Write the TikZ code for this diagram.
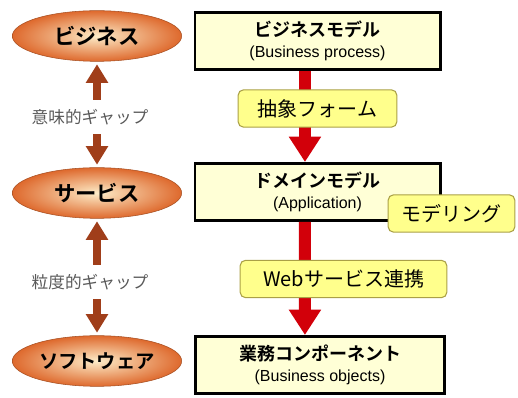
\documentclass[tikz,border=0pt]{standalone}
\usepackage{fontspec}
\setmainfont{Liberation Sans}
\newfontfamily\jp{Noto Sans CJK JP}
\newfontfamily\jpb{Noto Sans CJK JP Bold}
\usepackage{tikz}
\usetikzlibrary{arrows.meta}
\usetikzlibrary{shapes.geometric}
\usetikzlibrary{positioning}
\definecolor{cream}{RGB}{255, 255, 214}
\definecolor{lemon}{RGB}{255, 255, 140}
\definecolor{olive}{RGB}{170, 160, 70}
\definecolor{rust}{RGB}{160, 62, 26}
\definecolor{flamered}{RGB}{210, 0, 10}
\definecolor{peach}{RGB}{253, 236, 200}
\definecolor{burnt}{RGB}{222, 105, 45}

\tikzset{
  layer/.style={ellipse, draw=burnt!75!black, thin, inner color=peach, outer color=burnt,
    inner sep=0pt, minimum width=127pt, minimum height=38pt, font=\jpb\fontsize{16}{16}\selectfont},
  modelbox/.style={rectangle, draw=black, line width=2pt, fill=cream, align=center,
    minimum width=184pt, minimum height=43pt, inner sep=2pt, font=\fontsize{12}{16}\selectfont},
  steplabel/.style={rectangle, rounded corners=4pt, draw=olive, thick, fill=lemon,
    minimum height=28pt, font=\jp\fontsize{15}{15}\selectfont},
  gaplabel/.style={font=\jp\fontsize{12.5}{12.5}\selectfont, text=black!65, inner sep=0pt},
  gaparrow/.style={rust, line width=6pt, -{Triangle[width=16pt,length=14pt]}},
  flow/.style={flamered, line width=9pt, -{Triangle[width=23pt,length=19pt]}}
}

\begin{document}
\begin{tikzpicture}[x=0.75pt, y=-0.75pt]
  % Frame to fix the margins:
  \useasboundingbox (0,0) rectangle (518,398);

  % layers on the left
  \node[layer] (biz)  at (97, 36)  {ビジネス};
  \node[layer] (svc)  at (97, 193) {サービス};
  \node[layer, font=\jpb\fontsize{14.5}{14.5}\selectfont] (soft) at (97, 361) {ソフトウェア};
  \node[gaplabel] (gapA) at (90, 117) {意味的ギャップ};
  \node[gaplabel] (gapB) at (90, 282) {粒度的ギャップ};
  \draw[gaparrow, shorten <=7pt, shorten >=2pt] (gapA.north -| biz.south) -- (biz);
  \draw[gaparrow, shorten <=7pt, shorten >=2pt] (gapA.south -| biz.south) -- (svc);
  \draw[gaparrow, shorten <=7pt, shorten >=2pt] (gapB.north -| svc.south) -- (svc);
  \draw[gaparrow, shorten <=7pt, shorten >=2pt] (gapB.south -| svc.south) -- (soft);

  % models on the right
  \node[modelbox] (bm)   at (317.5, 41)  {{\jpb\fontsize{13.5}{13.5}\selectfont ビジネスモデル}\\(Business process)};
  \node[modelbox] (dm)   at (317.5, 192) {{\jpb\fontsize{13.5}{13.5}\selectfont ドメインモデル}\\(Application)};
  \node[modelbox, minimum width=187pt] (comp) at (320, 365)
    {{\jpb\fontsize{13.5}{13.5}\selectfont 業務コンポーネント}\\(Business objects)};
  \draw[flow] ([xshift=-9.4pt]bm.south) -- ([xshift=-9.4pt]dm.north);
  \draw[flow] ([xshift=-9.4pt]dm.south) -- ([xshift=-11.3pt]comp.north);

  % steps between the models
  \node[steplabel, minimum width=119pt] (abs)   at (317.5, 108.5) {抽象フォーム};
  \node[steplabel, minimum width=95pt]  (mdl)   at (451.5, 213.5) {モデリング};
  \node[steplabel, minimum width=155pt] (websv) at (343.5, 279)   {Webサービス連携};
\end{tikzpicture}
\end{document}
